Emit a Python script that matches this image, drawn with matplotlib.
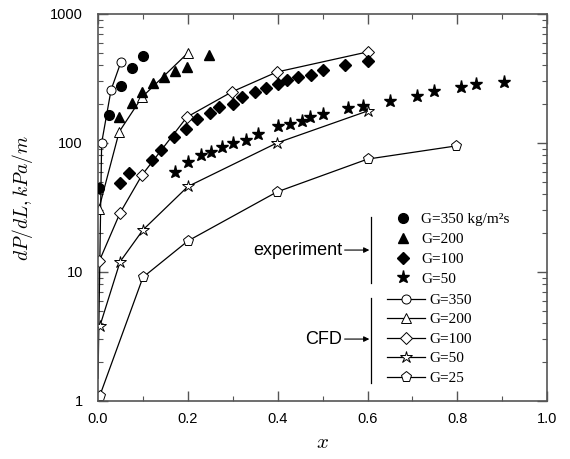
import numpy as np
import matplotlib
matplotlib.use("Agg")
import matplotlib.pyplot as plt
from matplotlib.ticker import FixedLocator, LogLocator, NullFormatter, MultipleLocator
from matplotlib.lines import Line2D

plt.rcParams["mathtext.fontset"] = "cm"

# experiment (filled markers)
exp350_x = [0.002, 0.024, 0.051, 0.076, 0.100]
exp350_y = [45, 165, 277, 381, 472]
exp200_x = [0.047, 0.076, 0.098, 0.122, 0.147, 0.171, 0.198, 0.247]
exp200_y = [159, 204, 248, 292, 325, 362, 388, 481]
exp100_x = [0.05, 0.07, 0.12, 0.14, 0.17, 0.195, 0.22, 0.25, 0.27, 0.30,
            0.32, 0.35, 0.375, 0.40, 0.42, 0.445, 0.475, 0.50, 0.55, 0.60]
exp100_y = [49, 59, 74, 88, 111, 128, 153, 171, 190, 200,
            227, 249, 267, 287, 308, 325, 337, 368, 402, 432]
exp50_x = [0.171, 0.20, 0.229, 0.251, 0.276, 0.30, 0.329, 0.356, 0.40, 0.427,
           0.455, 0.471, 0.50, 0.556, 0.589, 0.651, 0.711, 0.749, 0.809, 0.842, 0.904]
exp50_y = [60, 71, 80, 85, 93, 100, 105, 117, 135, 140,
           148, 159, 168, 187, 194, 212, 231, 253, 272, 287, 297]

# CFD (open markers + line); first G=350 point is the inlet, hidden under the axis
cfd350_x = [0.0, 0.008, 0.029, 0.051]
cfd350_y = [1.5, 100, 258, 425]
cfd200_x = [0.002, 0.047, 0.098, 0.200]
cfd200_y = [31, 122, 227, 499]
cfd100_x = [0.003, 0.049, 0.098, 0.198, 0.298, 0.398, 0.600]
cfd100_y = [12.2, 28.7, 56.5, 159, 249, 355, 508]
cfd50_x = [0.004, 0.049, 0.100, 0.200, 0.398, 0.600]
cfd50_y = [3.8, 12, 21.2, 46, 100, 177]
cfd25_x = [0.004, 0.100, 0.200, 0.398, 0.600, 0.798]
cfd25_y = [1.1, 9.1, 17.4, 41.7, 75, 95]

exp_labels = ["G=350 kg/m\u00b2s", "G=200", "G=100", "G=50"]
cfd_labels = ["G=350", "G=200", "G=100", "G=50", "G=25"]

fig = plt.figure(figsize=(5.7, 4.59), dpi=100)
ax = fig.add_axes([0.172, 0.1264, 0.788, 0.8431])

exp_sets = [(exp350_x, exp350_y, "o", 7), (exp200_x, exp200_y, "^", 7.5),
            (exp100_x, exp100_y, "D", 6.5), (exp50_x, exp50_y, "*", 9.5)]
exp_handles = []
for (xs, ys, m, ms) in exp_sets:
    ax.plot(xs, ys, linestyle="none", marker=m, ms=ms, color="black",
            mec="black", zorder=3)
    exp_handles.append(Line2D([], [], linestyle="none", marker=m, ms=ms,
                              color="black"))

cfd_sets = [(cfd350_x, cfd350_y, "o", 6.5, slice(1, None)),
            (cfd200_x, cfd200_y, "^", 7.5, None),
            (cfd100_x, cfd100_y, "D", 6.5, None),
            (cfd50_x, cfd50_y, "*", 9, None),
            (cfd25_x, cfd25_y, "p", 8, None)]
cfd_handles = []
for (xs, ys, m, ms, every) in cfd_sets:
    ax.plot(xs, ys, "-", color="black", lw=0.9, marker=m, ms=ms,
            mfc="white", mec="black", mew=0.7, markevery=every, zorder=2)
    cfd_handles.append(Line2D([], [], color="black", lw=0.9, marker=m, ms=ms,
                              mfc="white", mec="black", mew=0.7))

ax.set_yscale("log")
ax.set_xlim(0, 1.0)
ax.set_ylim(1, 1000)
ax.xaxis.set_major_locator(FixedLocator([0.0, 0.2, 0.4, 0.6, 0.8, 1.0]))
ax.set_xticklabels(["0.0", "0.2", "0.4", "0.6", "0.8", "1.0"])
ax.xaxis.set_minor_locator(MultipleLocator(0.1))
ax.yaxis.set_major_locator(FixedLocator([1, 10, 100, 1000]))
ax.set_yticklabels(["1", "10", "100", "1000"])
ax.yaxis.set_minor_locator(LogLocator(base=10, subs=np.arange(2, 10)))
ax.yaxis.set_minor_formatter(NullFormatter())

for s in ax.spines.values():
    s.set_color("#555555")
    s.set_linewidth(1.2)
ax.tick_params(which="both", direction="in", top=True, right=True,
               color="#555555", labelsize=10.5)
ax.tick_params(which="major", length=7, width=1.0)
ax.tick_params(which="minor", length=3.5, width=0.8)
ax.tick_params(axis="x", pad=8)
ax.tick_params(axis="y", pad=11)
for lab in ax.get_xticklabels() + ax.get_yticklabels():
    lab.set_fontfamily("Liberation Sans")

ax.set_xlabel("$x$", fontsize=15)
ax.xaxis.set_label_coords(0.5, -0.080)
ax.set_ylabel("$dP/dL, kPa/m$", fontsize=14)
ax.yaxis.set_label_coords(-0.140, 0.523)

# legends
leg1 = ax.legend(exp_handles, exp_labels, loc="center left",
                 bbox_to_anchor=(0.646, 0.392), frameon=False, borderpad=0,
                 handlelength=1.0, handletextpad=0.66, labelspacing=0.4,
                 prop={"family": "Liberation Serif", "size": 11})
ax.add_artist(leg1)
ax.legend(cfd_handles, cfd_labels, loc="center left",
          bbox_to_anchor=(0.626, 0.160), frameon=False, borderpad=0,
          handlelength=2.5, handletextpad=0.27, labelspacing=0.38,
          prop={"family": "Liberation Serif", "size": 11})

# brackets and arrows
ax.plot([0.608, 0.608], [0.305, 0.475], transform=ax.transAxes, color="black", lw=0.9)
ax.plot([0.608, 0.608], [0.047, 0.266], transform=ax.transAxes, color="black", lw=0.9)
ax.text(0.543, 0.390, "experiment", transform=ax.transAxes, ha="right", va="center",
        fontsize=13, family="Liberation Sans")
ax.text(0.543, 0.160, "CFD", transform=ax.transAxes, ha="right", va="center",
        fontsize=13, family="Liberation Sans")
for yy in (0.390, 0.160):
    ax.annotate("", xy=(0.604, yy), xytext=(0.549, yy), xycoords="axes fraction",
                arrowprops=dict(arrowstyle="-|>", lw=0.8, color="black",
                                mutation_scale=8, shrinkA=0, shrinkB=0))

fig.savefig("out.png", dpi=100)
